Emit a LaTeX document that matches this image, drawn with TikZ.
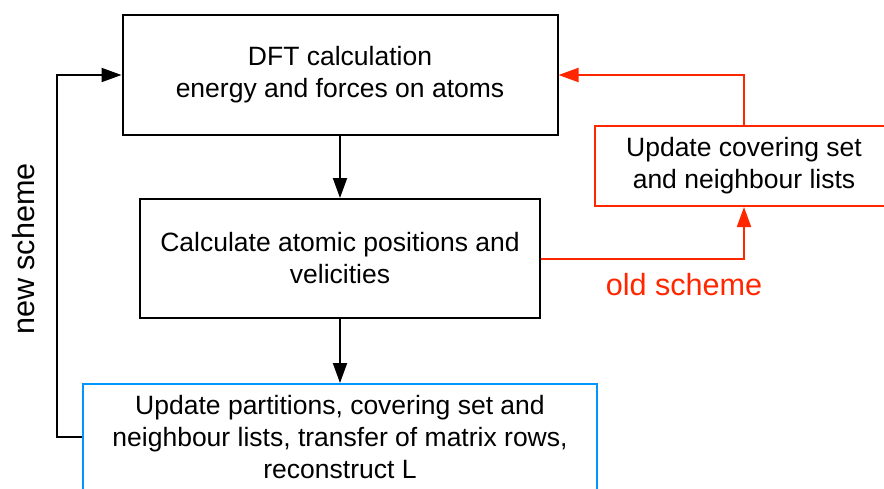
\documentclass[tikz,border=0pt]{standalone}
\usepackage{fontspec}
\setmainfont{Liberation Sans}
\usetikzlibrary{arrows.meta}
\definecolor{myred}{RGB}{255,38,0}
\definecolor{myblue}{RGB}{0,150,255}
\begin{document}
\begin{tikzpicture}[x=1pt,y=-1pt,
  box/.style={draw,line width=2pt,rectangle,align=center,inner sep=0pt,
    font=\fontsize{26.5}{32}\selectfont},
  arr/.style={line width=2pt,-{Triangle[length=20pt,width=14pt]}}]
\useasboundingbox (0,0) rectangle (884,488);
\clip (0,0) rectangle (884,488);
\node[box,minimum width=435pt,minimum height=120pt] (dft) at (340,75) {DFT calculation\\energy and forces on atoms};
\node[box,minimum width=400pt,minimum height=119pt] (calc) at (340,258.5) {Calculate atomic positions and\\velicities};
\node[box,draw=myred,minimum width=298pt,minimum height=80pt] (upd) at (744,166) {Update covering set\\and neighbour lists};
\node[box,draw=myblue,minimum width=514pt,minimum height=106pt] (part) at (340,437) {Update partitions, covering set and\\neighbour lists, transfer of matrix rows,\\reconstruct L};
\node[rotate=90,font=\fontsize{30.6}{36}\selectfont] (new) at (24,249) {new scheme};
\node[text=myred,font=\fontsize{30.6}{36}\selectfont] (old) at (684,285) {old scheme};
\draw[arr] (dft.south) -- (calc.north);
\draw[arr] (calc.south) -- (part.north);
\draw[arr,myred] (calc.east) -| (upd.south);
\draw[arr,myred] (upd.north) |- (dft.east);
\coordinate (lft) at (57,437);
\draw[arr] (part.west) -- (lft) |- (dft.west);
\end{tikzpicture}
\end{document}
